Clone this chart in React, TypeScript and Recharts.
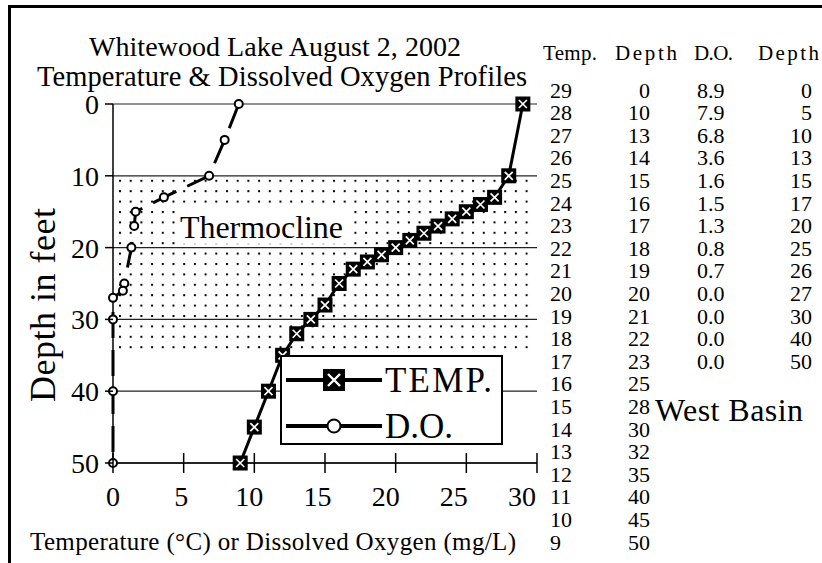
import React from "react";
import { ScatterChart, Scatter, XAxis, YAxis, CartesianGrid, ReferenceArea, Legend } from "recharts";

// Whitewood Lake, West Basin, August 2 2002
const tempValues = [29, 28, 27, 26, 25, 24, 23, 22, 21, 20, 19, 18, 17, 16, 15, 14, 13, 12, 11, 10, 9];
const tempDepths = [0, 10, 13, 14, 15, 16, 17, 18, 19, 20, 21, 22, 23, 25, 28, 30, 32, 35, 40, 45, 50];
const doValues = [8.9, 7.9, 6.8, 3.6, 1.6, 1.5, 1.3, 0.8, 0.7, 0.0, 0.0, 0.0, 0.0];
const doDepths = [0, 5, 10, 13, 15, 17, 20, 25, 26, 27, 30, 40, 50];
const xTicks = [0, 5, 10, 15, 20, 25, 30];
const depthTicks = [0, 10, 20, 30, 40, 50];
const thermoTop = 10;
const thermoBottom = 35;

const tempData = tempValues.map((v, i) => ({ x: v, depth: tempDepths[i] }));
const doData = doValues.map((v, i) => ({ x: v, depth: doDepths[i] }));

const FONT = "Liberation Serif";

const TempMark = (p: any) => {
  const { cx, cy } = p;
  const s = p.big ? 11 : 7.5;
  const k = p.big ? 6 : 4;
  return (
    <g>
      <rect x={cx - s} y={cy - s} width={s * 2} height={s * 2} fill="#000" />
      <path
        d={`M${cx - k},${cy - k}L${cx + k},${cy + k}M${cx + k},${cy - k}L${cx - k},${cy + k}`}
        stroke="#fff"
        strokeWidth={p.big ? 2.4 : 1.7}
      />
    </g>
  );
};

const DoMark = (p: any) => <circle cx={p.cx} cy={p.cy} r={4} fill="#fff" stroke="#000" strokeWidth={2} />;

// labels in the original sit a little left of their ticks, more so to the right
const XTick = (p: any) => {
  const { x, y, payload } = p;
  const shift = -payload.value * 0.5;
  return (
    <g>
      <line x1={x} x2={x} y1={y - 10} y2={y + 10} stroke="#000" strokeWidth={1.5} />
      <text x={x + shift} y={y + 43} textAnchor="middle" fontSize={28} fontFamily={FONT} fill="#000">
        {payload.value}
      </text>
    </g>
  );
};

const YTick = (p: any) => {
  const { x, y, payload } = p;
  return (
    <g>
      <line x1={x - 8} x2={x} y1={y} y2={y} stroke="#000" strokeWidth={1.5} />
      <text x={x - 14} y={y + 10} textAnchor="end" fontSize={28} fontFamily={FONT} fill="#000">
        {payload.value}
      </text>
    </g>
  );
};

const ThermoShape = (p: any) => {
  const { x, y, width, height } = p;
  return (
    <g>
      <defs>
        <pattern id="thermoDots" width={10.7} height={10.4} patternUnits="userSpaceOnUse" x={x + 6} y={y + 4}>
          <rect x={0} y={0} width={2} height={2} fill="#000" />
        </pattern>
      </defs>
      <rect x={x} y={y} width={width - 8} height={height} fill="url(#thermoDots)" />
      <rect x={x + 63} y={y + 34} width={172} height={34} fill="#fff" />
      <text x={x + 67} y={y + 62} fontSize={32} fontFamily={FONT} fill="#000" textLength={163}>
        Thermocline
      </text>
    </g>
  );
};

const LegendBox = (props: any) => {
  const names = (props.payload || []).map((it: any) => it.value);
  const list = names.length ? names : ["TEMP.", "D.O."];
  return (
    <svg width={223} height={96} style={{ display: "block", overflow: "visible" }}>
      <rect x={1} y={1} width={221} height={88} fill="#fff" stroke="#000" strokeWidth={2} />
      {list.map((name: string, i: number) => {
        const cy = i === 0 ? 25 : 71;
        return (
          <g key={name}>
            <line x1={6} x2={102} y1={cy} y2={cy} stroke="#000" strokeWidth={4} />
            {i === 0 ? (
              <TempMark cx={54} cy={cy} big />
            ) : (
              <circle cx={54} cy={cy} r={6.5} fill="#fff" stroke="#000" strokeWidth={2} />
            )}
            <text x={105} y={cy + 12} fontSize={35} fontFamily={FONT} fill="#000" textLength={i === 0 ? 107 : 68}>
              {name}
            </text>
          </g>
        );
      })}
    </svg>
  );
};

function DepthLabel() {
  return (
    <text
      x={43}
      y={305}
      transform="rotate(-90 43 305)"
      textAnchor="middle"
      dominantBaseline="central"
      fontSize={36}
      fontFamily={FONT}
      fill="#000"
      textLength={194}
    >
      Depth in feet
    </text>
  );
}

function SideTable() {
  const rowY = (i: number) => 97.5 + i * 22.6;
  return (
    <g fontFamily={FONT} fill="#000">
      <text x={543} y={60} fontSize={21} textLength={54}>Temp.</text>
      <text x={615} y={60} fontSize={21} textLength={62}>Depth</text>
      <text x={694} y={60} fontSize={21} textLength={39}>D.O.</text>
      <text x={758} y={60} fontSize={21} textLength={61}>Depth</text>
      {tempValues.map((v, i) => (
        <text key={"t" + i} x={550} y={rowY(i)} fontSize={22}>{v}</text>
      ))}
      {tempDepths.map((d, i) => (
        <text key={"td" + i} x={650} y={rowY(i)} fontSize={22} textAnchor="end">{d}</text>
      ))}
      {doValues.map((v, i) => (
        <text key={"o" + i} x={697} y={rowY(i)} fontSize={22}>{v.toFixed(1)}</text>
      ))}
      {doDepths.map((d, i) => (
        <text key={"od" + i} x={812} y={rowY(i)} fontSize={22} textAnchor="end">{d}</text>
      ))}
      <text x={655} y={421} fontSize={32} textLength={148}>West Basin</text>
    </g>
  );
}

export default function App() {
  return (
    <div style={{ position: "absolute", left: 0, top: 0, width: 822, height: 563, background: "#fff", overflow: "hidden" }}>
      <ScatterChart width={822} height={563} margin={{ top: 104, right: 285, bottom: 0, left: 0 }}>
        <ReferenceArea y1={thermoTop} y2={thermoBottom} shape={ThermoShape} ifOverflow="extendDomain" />
        <CartesianGrid horizontal vertical={false} stroke="#222" strokeWidth={1.2} />
        <XAxis
          type="number"
          dataKey="x"
          domain={[0, 30]}
          ticks={xTicks}
          height={100}
          tickSize={0}
          tickMargin={0}
          tick={XTick}
          tickLine={false}
          axisLine={{ stroke: "#000", strokeWidth: 1.5 }}
        />
        <YAxis
          type="number"
          dataKey="depth"
          domain={[0, 50]}
          ticks={depthTicks}
          reversed
          width={113}
          tickSize={0}
          tickMargin={0}
          tick={YTick}
          tickLine={false}
          axisLine={{ stroke: "#000", strokeWidth: 1.5 }}
        />
        <Scatter
          name="D.O."
          data={doData}
          line={{ stroke: "#000", strokeWidth: 3, strokeDasharray: "26 12" }}
          shape={DoMark}
          isAnimationActive={false}
        />
        <Scatter
          name="TEMP."
          data={tempData}
          line={{ stroke: "#000", strokeWidth: 3 }}
          shape={TempMark}
          isAnimationActive={false}
        />
        <Legend
          verticalAlign="middle"
          align="center"
          content={LegendBox}
          wrapperStyle={{ left: 280, top: 355, width: 223, height: 96 }}
          itemSorter={(item: any) => (item.value === "TEMP." ? 0 : 1)}
        />
      </ScatterChart>
      <svg width={822} height={563} style={{ position: "absolute", left: 0, top: 0, pointerEvents: "none" }}>
        <path d="M9.5,563 L9.5,6.5 L822,6.5" fill="none" stroke="#000" strokeWidth={3} />
        <text x={275} y={56} textAnchor="middle" fontSize={28} fontFamily={FONT} fill="#000" textLength={372}>
          Whitewood Lake August 2, 2002
        </text>
        <text x={282} y={86} textAnchor="middle" fontSize={28.5} fontFamily={FONT} fill="#000" textLength={490}>
          Temperature &amp; Dissolved Oxygen Profiles
        </text>
        <DepthLabel />
        <text x={273} y={550} textAnchor="middle" fontSize={25} fontFamily={FONT} fill="#000" textLength={486}>
          Temperature (°C) or Dissolved Oxygen (mg/L)
        </text>
        <SideTable />
      </svg>
    </div>
  );
}
